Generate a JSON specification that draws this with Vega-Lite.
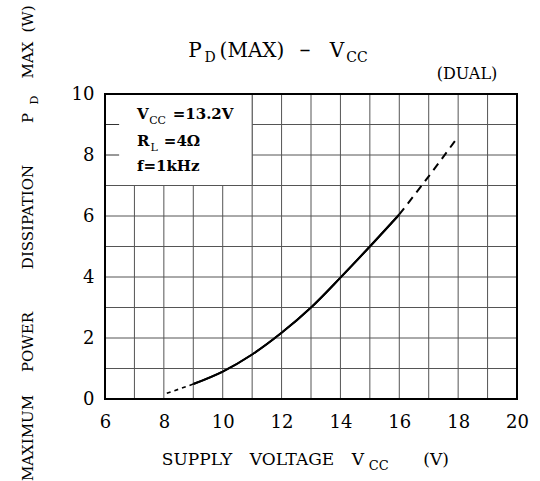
{
  "$schema": "https://vega.github.io/schema/vega-lite/v6.json",
  "width": 412,
  "height": 305,
  "autosize": {"type": "none"},
  "padding": {"left": 105, "top": 94, "right": 23, "bottom": 82},
  "background": "white",
  "config": {
    "view": {"stroke": null},
    "font": "DejaVu Serif",
    "text": {"font": "DejaVu Serif", "color": "black", "baseline": "alphabetic"},
    "axis": {
      "grid": false, "ticks": false, "domain": false,
      "labelFont": "DejaVu Serif", "labelFontSize": 18, "labelColor": "black",
      "labelOverlap": false, "labelFlush": false, "labelBound": false
    }
  },
  "datasets": {
    "curve": [
      {"seg": "low", "v": 8.1, "p": 0.19},
      {"seg": "low", "v": 8.5, "p": 0.32},
      {"seg": "low", "v": 9, "p": 0.49},
      {"seg": "main", "v": 9, "p": 0.49},
      {"seg": "main", "v": 10, "p": 0.9},
      {"seg": "main", "v": 11, "p": 1.46},
      {"seg": "main", "v": 12, "p": 2.17},
      {"seg": "main", "v": 13, "p": 3.0},
      {"seg": "main", "v": 14, "p": 3.98},
      {"seg": "main", "v": 15, "p": 5.0},
      {"seg": "main", "v": 16, "p": 6.05},
      {"seg": "high", "v": 16, "p": 6.05},
      {"seg": "high", "v": 17, "p": 7.3},
      {"seg": "high", "v": 18, "p": 8.6}
    ],
    "gridx": [{"gx": 7}, {"gx": 8}, {"gx": 9}, {"gx": 10}, {"gx": 11}, {"gx": 12}, {"gx": 13}, {"gx": 14}, {"gx": 15}, {"gx": 16}, {"gx": 17}, {"gx": 18}, {"gx": 19}],
    "gridy": [{"gy": 1}, {"gy": 2}, {"gy": 3}, {"gy": 4}, {"gy": 5}, {"gy": 6}, {"gy": 7}, {"gy": 8}, {"gy": 9}]
  },
  "layer": [
    {
      "data": {"name": "curve"},
      "transform": [{"filter": "datum.seg == 'main'"}],
      "mark": {"type": "line", "color": "black", "strokeWidth": 2, "interpolate": "catmull-rom"},
      "encoding": {
        "x": {
          "field": "v", "type": "quantitative", "title": null,
          "scale": {"domain": [6, 20], "nice": false, "zero": false},
          "axis": {
            "title": null, "grid": false,
            "values": [6, 8, 10, 12, 14, 16, 18, 20],
            "labelPadding": 14
          }
        },
        "y": {
          "field": "p", "type": "quantitative", "title": null,
          "scale": {"domain": [0, 10], "nice": false, "zero": false},
          "axis": {
            "title": null, "grid": false,
            "values": [0, 2, 4, 6, 8, 10],
            "labelPadding": 11
          }
        }
      }
    },
    {
      "data": {"name": "gridx"},
      "mark": {"type": "rule", "color": "#555", "strokeWidth": 1},
      "encoding": {"x": {"field": "gx", "type": "quantitative", "title": null}, "y": {"datum": 0, "title": null}, "y2": {"datum": 10}}
    },
    {
      "data": {"name": "gridy"},
      "mark": {"type": "rule", "color": "#555", "strokeWidth": 1},
      "encoding": {"y": {"field": "gy", "type": "quantitative", "title": null}, "x": {"datum": 6, "title": null}, "x2": {"datum": 20}}
    },
    {
      "data": {"values": [{}]},
      "mark": {"type": "rect", "fill": "white", "stroke": "#555", "strokeWidth": 1},
      "encoding": {
        "x": {"datum": 6, "title": null}, "x2": {"datum": 11},
        "y": {"datum": 7, "title": null}, "y2": {"datum": 10}
      }
    },
    {
      "data": {"values": [{}]},
      "mark": {"type": "rule", "color": "#333", "strokeWidth": 1},
      "encoding": {"x": {"datum": 6, "title": null}, "x2": {"datum": 6.48}, "y": {"datum": 9, "title": null}}
    },
    {
      "data": {"values": [{}]},
      "mark": {"type": "rule", "color": "#333", "strokeWidth": 1},
      "encoding": {"x": {"datum": 6, "title": null}, "x2": {"datum": 6.48}, "y": {"datum": 8, "title": null}}
    },
    {
      "data": {"name": "curve"},
      "transform": [{"filter": "datum.seg == 'main'"}],
      "mark": {"type": "line", "color": "black", "strokeWidth": 2, "interpolate": "catmull-rom"},
      "encoding": {"x": {"field": "v", "type": "quantitative", "title": null}, "y": {"field": "p", "type": "quantitative", "title": null}}
    },
    {
      "data": {"name": "curve"},
      "transform": [{"filter": "datum.seg == 'low'"}],
      "mark": {"type": "line", "color": "black", "strokeWidth": 1.6, "strokeDash": [4, 4]},
      "encoding": {"x": {"field": "v", "type": "quantitative", "title": null}, "y": {"field": "p", "type": "quantitative", "title": null}}
    },
    {
      "data": {"name": "curve"},
      "transform": [{"filter": "datum.seg == 'high'"}],
      "mark": {"type": "line", "color": "black", "strokeWidth": 2, "strokeDash": [8, 6], "interpolate": "catmull-rom"},
      "encoding": {"x": {"field": "v", "type": "quantitative", "title": null}, "y": {"field": "p", "type": "quantitative", "title": null}}
    },
    {
      "data": {"values": [{}]},
      "mark": {"type": "rect", "fillOpacity": 0, "stroke": "black", "strokeWidth": 2},
      "encoding": {
        "x": {"datum": 6, "title": null}, "x2": {"datum": 20},
        "y": {"datum": 0, "title": null}, "y2": {"datum": 10}
      }
    },
    {"data": {"values": [{}]}, "mark": {"type": "text", "text": "P", "fontSize": 20, "align": "center"},
     "encoding": {"x": {"datum": 9.058, "title": null}, "y": {"datum": 11.213, "title": null}}},
    {"data": {"values": [{}]}, "mark": {"type": "text", "text": "D", "fontSize": 14, "align": "center"},
     "encoding": {"x": {"datum": 9.568, "title": null}, "y": {"datum": 11.049, "title": null}}},
    {"data": {"values": [{}]}, "mark": {"type": "text", "text": "(MAX)", "fontSize": 20, "align": "center"},
     "encoding": {"x": {"datum": 10.995, "title": null}, "y": {"datum": 11.213, "title": null}}},
    {"data": {"values": [{}]}, "mark": {"type": "text", "text": "–", "fontSize": 22, "align": "center"},
     "encoding": {"x": {"datum": 12.796, "title": null}, "y": {"datum": 11.213, "title": null}}},
    {"data": {"values": [{}]}, "mark": {"type": "text", "text": "V", "fontSize": 20, "align": "center"},
     "encoding": {"x": {"datum": 13.883, "title": null}, "y": {"datum": 11.213, "title": null}}},
    {"data": {"values": [{}]}, "mark": {"type": "text", "text": "CC", "fontSize": 14, "align": "center"},
     "encoding": {"x": {"datum": 14.563, "title": null}, "y": {"datum": 11.049, "title": null}}},
    {"data": {"values": [{}]}, "mark": {"type": "text", "text": "(DUAL)", "fontSize": 16, "align": "center"},
     "encoding": {"x": {"datum": 18.301, "title": null}, "y": {"datum": 10.5, "title": null}}},
    {"data": {"values": [{}]}, "mark": {"type": "text", "text": "V", "fontSize": 15, "fontWeight": "bold", "align": "left"},
     "encoding": {"x": {"datum": 7.087, "title": null}, "y": {"datum": 9.18, "title": null}}},
    {"data": {"values": [{}]}, "mark": {"type": "text", "text": "CC", "fontSize": 11, "align": "left"},
     "encoding": {"x": {"datum": 7.5, "title": null}, "y": {"datum": 9.016, "title": null}}},
    {"data": {"values": [{}]}, "mark": {"type": "text", "text": "=13.2V", "fontSize": 15, "fontWeight": "bold", "align": "left"},
     "encoding": {"x": {"datum": 8.3, "title": null}, "y": {"datum": 9.18, "title": null}}},
    {"data": {"values": [{}]}, "mark": {"type": "text", "text": "R", "fontSize": 15, "fontWeight": "bold", "align": "left"},
     "encoding": {"x": {"datum": 7.087, "title": null}, "y": {"datum": 8.295, "title": null}}},
    {"data": {"values": [{}]}, "mark": {"type": "text", "text": "L", "fontSize": 11, "align": "left"},
     "encoding": {"x": {"datum": 7.55, "title": null}, "y": {"datum": 8.131, "title": null}}},
    {"data": {"values": [{}]}, "mark": {"type": "text", "text": "=4Ω", "fontSize": 15, "fontWeight": "bold", "align": "left"},
     "encoding": {"x": {"datum": 8.0, "title": null}, "y": {"datum": 8.295, "title": null}}},
    {"data": {"values": [{}]}, "mark": {"type": "text", "text": "f=1kHz", "fontSize": 15, "fontWeight": "bold", "align": "left"},
     "encoding": {"x": {"datum": 7.087, "title": null}, "y": {"datum": 7.475, "title": null}}},
    {"data": {"values": [{}]}, "mark": {"type": "text", "text": "SUPPLY", "fontSize": 17, "align": "center"},
     "encoding": {"x": {"datum": 9.126, "title": null}, "y": {"datum": -2.164, "title": null}}},
    {"data": {"values": [{}]}, "mark": {"type": "text", "text": "VOLTAGE", "fontSize": 17, "align": "center"},
     "encoding": {"x": {"datum": 12.354, "title": null}, "y": {"datum": -2.164, "title": null}}},
    {"data": {"values": [{}]}, "mark": {"type": "text", "text": "V", "fontSize": 17, "align": "center"},
     "encoding": {"x": {"datum": 14.597, "title": null}, "y": {"datum": -2.164, "title": null}}},
    {"data": {"values": [{}]}, "mark": {"type": "text", "text": "CC", "fontSize": 13, "align": "center"},
     "encoding": {"x": {"datum": 15.3, "title": null}, "y": {"datum": -2.328, "title": null}}},
    {"data": {"values": [{}]}, "mark": {"type": "text", "text": "(V)", "fontSize": 17, "align": "center"},
     "encoding": {"x": {"datum": 17.248, "title": null}, "y": {"datum": -2.164, "title": null}}},
    {"data": {"values": [{}]}, "mark": {"type": "text", "text": "MAXIMUM", "fontSize": 15, "align": "center", "angle": 270},
     "encoding": {"x": {"datum": 3.553, "title": null}, "y": {"datum": -1.279, "title": null}}},
    {"data": {"values": [{}]}, "mark": {"type": "text", "text": "POWER", "fontSize": 15, "align": "center", "angle": 270},
     "encoding": {"x": {"datum": 3.553, "title": null}, "y": {"datum": 1.869, "title": null}}},
    {"data": {"values": [{}]}, "mark": {"type": "text", "text": "DISSIPATION", "fontSize": 15, "align": "center", "angle": 270},
     "encoding": {"x": {"datum": 3.553, "title": null}, "y": {"datum": 5.967, "title": null}}},
    {"data": {"values": [{}]}, "mark": {"type": "text", "text": "P", "fontSize": 15, "align": "center", "angle": 270},
     "encoding": {"x": {"datum": 3.553, "title": null}, "y": {"datum": 9.213, "title": null}}},
    {"data": {"values": [{}]}, "mark": {"type": "text", "text": "D", "fontSize": 11, "align": "center", "angle": 270},
     "encoding": {"x": {"datum": 3.723, "title": null}, "y": {"datum": 9.803, "title": null}}},
    {"data": {"values": [{}]}, "mark": {"type": "text", "text": "MAX", "fontSize": 15, "align": "center", "angle": 270},
     "encoding": {"x": {"datum": 3.553, "title": null}, "y": {"datum": 11.115, "title": null}}},
    {"data": {"values": [{}]}, "mark": {"type": "text", "text": "(W)", "fontSize": 15, "align": "center", "angle": 270},
     "encoding": {"x": {"datum": 3.553, "title": null}, "y": {"datum": 12.459, "title": null}}}
  ]
}
